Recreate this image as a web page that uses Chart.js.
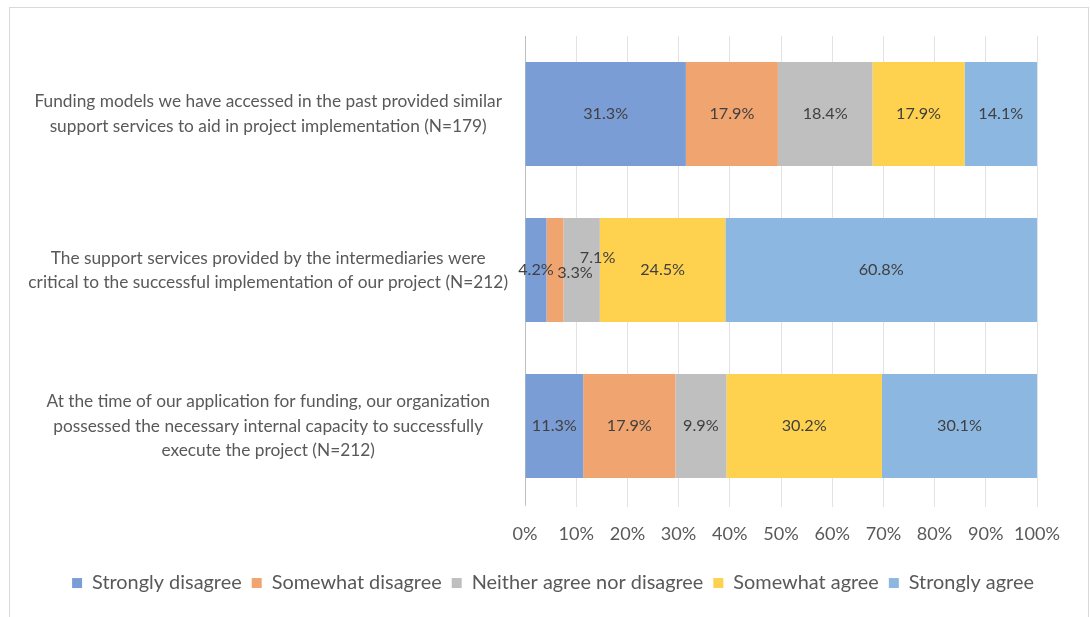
<!DOCTYPE html>
<html>
<head>
<meta charset="utf-8">
<script src="https://cdn.jsdelivr.net/npm/chart.js@4.4.1/dist/chart.umd.min.js"></script>
<style>
html,body{margin:0;padding:0;background:#fff;}
#wrap{position:relative;width:1090px;height:617px;}
</style>
</head>
<body>
<div id="wrap"><canvas id="c" width="1090" height="617"></canvas></div>
<script>
// ---- data ----
const categories = [
  ["Funding models we have accessed in the past provided similar", "support services to aid in project implementation (N=179)"],
  ["The support services provided by the intermediaries were", "critical to the successful implementation of our project (N=212)"],
  ["At the time of our application for funding, our organization", "possessed the necessary internal capacity to successfully", "execute the project (N=212)"]
];
const seriesNames = ["Strongly disagree", "Somewhat disagree", "Neither agree nor disagree", "Somewhat agree", "Strongly agree"];
const stronglyDisagree = [31.3, 4.2, 11.3];
const somewhatDisagree = [17.9, 3.3, 17.9];
const neitherAgree = [18.4, 7.1, 9.9];
const somewhatAgree = [17.9, 24.5, 30.2];
const stronglyAgree = [14.1, 60.8, 30.1];
const xTickValues = [0, 10, 20, 30, 40, 50, 60, 70, 80, 90, 100];

// ---- styles ----
const colors = ["#7B9DD5", "#F0A46F", "#BFBFBF", "#FED14F", "#8CB7E0"];
const FAMILY = "Lato, 'Liberation Sans', sans-serif";
const textColor = "#595959";

const mctx = document.createElement('canvas').getContext('2d');
function fitSize(text, target) {
  mctx.font = "100px " + FAMILY;
  return Math.round(100 * target / mctx.measureText(text).width * 10) / 10;
}
const ySize = fitSize("critical to the successful implementation of our project (N=212)", 481);
const xSize = fitSize("100%", 46);
const legSize = fitSize("Strongly disagree", 150);
const lblSize = fitSize("31.3%", 45);

const seriesData = [stronglyDisagree, somewhatDisagree, neitherAgree, somewhatAgree, stronglyAgree];
// 100% stacked: each row is scaled to its total, labels show the read values
const rowTotals = categories.map((_, i) => seriesData.reduce((s, arr) => s + arr[i], 0));

// label nudges (Excel moved overlapping labels)
const labelNudge = { "1-1": [20, 3], "2-1": [16, -12] };

const dataLabels = {
  id: 'dataLabels',
  afterDatasetsDraw(chart) {
    const ctx = chart.ctx;
    ctx.save();
    ctx.font = lblSize + "px " + FAMILY;
    ctx.fillStyle = "#404040";
    ctx.textAlign = "center";
    ctx.textBaseline = "middle";
    chart.data.datasets.forEach((ds, di) => {
      const meta = chart.getDatasetMeta(di);
      meta.data.forEach((bar, i) => {
        const v = ds.rawValues[i];
        const n = labelNudge[di + "-" + i] || [0, 0];
        const x = (bar.x + bar.base) / 2 + n[0];
        ctx.fillText(v.toFixed(1) + "%", x, bar.y + n[1]);
      });
    });
    ctx.restore();
  }
};

const frame = {
  id: 'frame',
  beforeDraw(chart) {
    const ctx = chart.ctx;
    ctx.save();
    ctx.strokeStyle = "#D9D9D9";
    ctx.lineWidth = 1;
    ctx.strokeRect(9.5, 7.5, 1079, 640);
    ctx.restore();
  }
};

const legendShift = {
  id: 'legendShift',
  afterLayout(chart) {
    if (chart.legend) { chart.legend.left += 30; chart.legend.right += 30; }
  }
};

new Chart(document.getElementById('c'), {
  type: 'bar',
  data: {
    labels: categories,
    datasets: seriesNames.map((name, i) => ({
      label: name,
      rawValues: seriesData[i],
      data: seriesData[i].map((v, j) => v / rowTotals[j] * 100),
      backgroundColor: colors[i],
      borderWidth: 0,
      barPercentage: 0.667,
      categoryPercentage: 1.0
    }))
  },
  options: {
    indexAxis: 'y',
    responsive: false,
    animation: false,
    layout: { padding: { left: 9, right: 53, top: 36, bottom: 14 } },
    scales: {
      x: {
        stacked: true,
        min: 0, max: 100,
        afterBuildTicks(scale) { scale.ticks = xTickValues.map(v => ({ value: v })); },
        afterFit(scale) { scale.height = 59; },
        ticks: {
          callback: v => v + "%",
          color: textColor,
          font: { family: FAMILY, size: xSize },
          padding: 16,
          maxRotation: 0
        },
        grid: { color: "#E3E3E3", lineWidth: 1, tickLength: 3, drawTicks: true },
        border: { display: false }
      },
      y: {
        stacked: true,
        afterFit(scale) { scale.width = 525 - 9; scale.paddingTop = 0; scale.paddingBottom = 0; },
        ticks: {
          color: textColor,
          font: { family: FAMILY, size: ySize, lineHeight: 1.4 },
          padding: 17,
          crossAlign: 'center'
        },
        grid: { display: false, drawTicks: false },
        border: { display: true, color: "#BFBFBF", width: 1 }
      }
    },
    plugins: {
      legend: {
        position: 'bottom',
        align: 'center',
        labels: {
          boxWidth: 10,
          boxHeight: 10,
          padding: 10,
          color: textColor,
          font: { family: FAMILY, size: legSize }
        }
      },
      tooltip: { enabled: false }
    }
  },
  plugins: [dataLabels, frame, legendShift]
});
</script>
</body>
</html>
